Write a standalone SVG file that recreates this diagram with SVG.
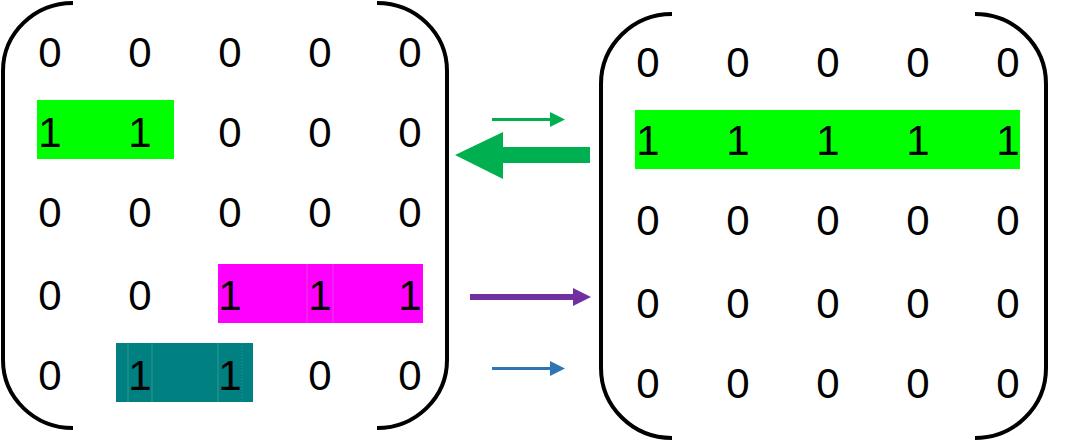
<svg xmlns="http://www.w3.org/2000/svg" width="1068" height="442" viewBox="0 0 1068 442">
<style>
.br{fill:none;stroke:#000;stroke-width:4}
.d{font-family:"Liberation Sans",Arial,sans-serif;font-size:42px;fill:#000;text-anchor:middle}
.sep{stroke-width:1;opacity:0.45}
</style>
<rect width="1068" height="442" fill="#fff"/>
<g id="matrixA">
<rect x="37" y="100" width="137" height="59" fill="#00FF00"/>
<rect x="218" y="264" width="205" height="59" fill="#FF00FF"/>
<line x1="307" y1="264" x2="307" y2="323" stroke="#d080e0" class="sep"/>
<line x1="333" y1="264" x2="333" y2="323" stroke="#d080e0" class="sep"/>
<rect x="116" y="343" width="137" height="59" fill="#008080"/>
<g stroke="#6fb3b3" class="sep">
<line x1="128" y1="343" x2="128" y2="402"/>
<line x1="152" y1="343" x2="152" y2="402"/>
<line x1="218" y1="343" x2="218" y2="402"/>
<line x1="242" y1="343" x2="242" y2="402" stroke-dasharray="1 2"/>
</g>
<path class="br" d="M73,3 A70,68 0 0 0 3,71 L3,360 A70,68 0 0 0 73,428"/>
<path class="br" d="M377,3 A70,68 0 0 1 447,71 L447,360 A70,68 0 0 1 377,428"/>
<g class="d">
<text x="50" y="67">0</text><text x="140" y="67">0</text><text x="230" y="67">0</text><text x="320" y="67">0</text><text x="410" y="67">0</text>
<text x="50" y="147">1</text><text x="140" y="147">1</text><text x="230" y="147">0</text><text x="320" y="147">0</text><text x="410" y="147">0</text>
<text x="50" y="227">0</text><text x="140" y="227">0</text><text x="230" y="227">0</text><text x="320" y="227">0</text><text x="410" y="227">0</text>
<text x="50" y="310">0</text><text x="140" y="310">0</text><text x="230" y="310">1</text><text x="320" y="310">1</text><text x="410" y="310">1</text>
<text x="50" y="390">0</text><text x="140" y="390">1</text><text x="230" y="390">1</text><text x="320" y="390">0</text><text x="410" y="390">0</text>
</g>
</g>
<g id="matrixB">
<rect x="635" y="110" width="385" height="59" fill="#00FF00"/>
<path class="br" d="M672,14 A71,70 0 0 0 601,84 L601,368 A71,70 0 0 0 672,438"/>
<path class="br" d="M975,14 A71,70 0 0 1 1046,84 L1046,368 A71,70 0 0 1 975,438"/>
<g class="d">
<text x="648" y="77">0</text><text x="738" y="77">0</text><text x="828" y="77">0</text><text x="918" y="77">0</text><text x="1008" y="77">0</text>
<text x="648" y="155">1</text><text x="738" y="155">1</text><text x="828" y="155">1</text><text x="918" y="155">1</text><text x="1008" y="155">1</text>
<text x="648" y="235">0</text><text x="738" y="235">0</text><text x="828" y="235">0</text><text x="918" y="235">0</text><text x="1008" y="235">0</text>
<text x="648" y="318">0</text><text x="738" y="318">0</text><text x="828" y="318">0</text><text x="918" y="318">0</text><text x="1008" y="318">0</text>
<text x="648" y="398">0</text><text x="738" y="398">0</text><text x="828" y="398">0</text><text x="918" y="398">0</text><text x="1008" y="398">0</text>
</g>
</g>
<g id="connectors">
<line x1="492" y1="119.5" x2="551" y2="119.5" stroke="#00B050" stroke-width="3"/>
<polygon points="550,112 565,119.5 550,127" fill="#00B050"/>
<polygon points="590,147 503,147 503,132 455,155 503,179 503,163 590,163" fill="#00B050"/>
<line x1="470" y1="297" x2="574" y2="297" stroke="#7030A0" stroke-width="6"/>
<polygon points="573,288 591,297 573,306" fill="#7030A0"/>
<line x1="492" y1="368.5" x2="551" y2="368.5" stroke="#2E75B6" stroke-width="3"/>
<polygon points="550,361 565,368.5 550,376" fill="#2E75B6"/>
</g>
</svg>
